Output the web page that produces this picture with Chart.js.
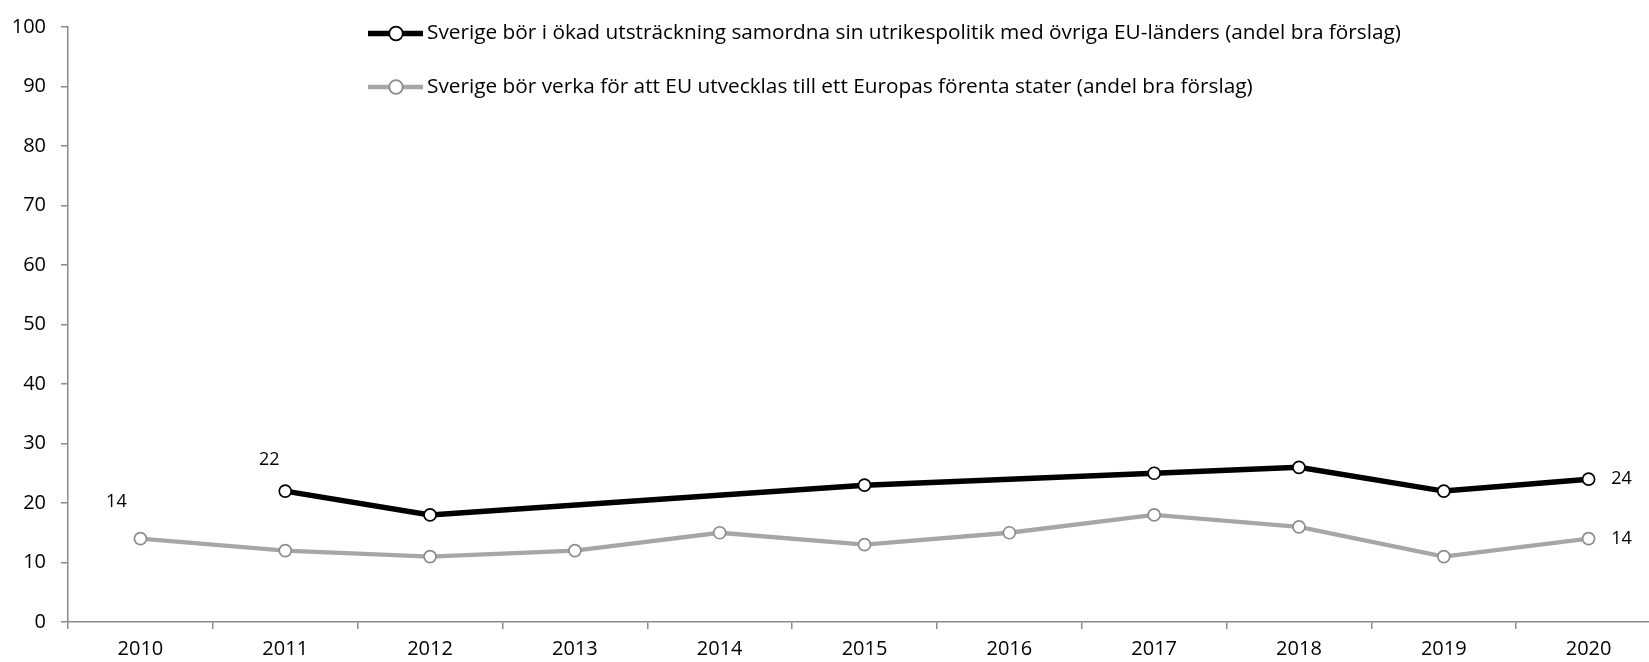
<!DOCTYPE html>
<html>
<head>
<meta charset="utf-8">
<script src="https://cdn.jsdelivr.net/npm/chart.js@4/dist/chart.umd.min.js"></script>
<style>
  html, body { margin: 0; padding: 0; background: #fff; overflow: hidden; width: 1649px; height: 662px; }
  #wrap { position: absolute; left: 0; top: 0; width: 1670px; height: 662px; }
</style>
</head>
<body>
<div id="wrap"><canvas id="c" width="1670" height="662"></canvas></div>
<script>
// ---- data ----
const years = ['2010','2011','2012','2013','2014','2015','2016','2017','2018','2019','2020'];
const samordnaValues = [null, 22, 18, null, null, 23, null, 25, 26, 22, 24];
const europasValues  = [14, 12, 11, 12, 15, 13, 15, 18, 16, 11, 14];
const seriesNames = [
  'Sverige bör i ökad utsträckning samordna sin utrikespolitik med övriga EU-länders (andel bra förslag)',
  'Sverige bör verka för att EU utvecklas till ett Europas förenta stater (andel bra förslag)'
];
const yTicks = [0, 10, 20, 30, 40, 50, 60, 70, 80, 90, 100];

const FONT = "'Open Sans', 'Noto Sans', sans-serif";
const AXIS_COLOR = '#8a8a8a';

const styles = [
  { line: '#000000', width: 5.5, marker: '#000000' },
  { line: '#a6a6a6', width: 4.3, marker: '#8c8c8c' }
];

// legend drawn as line + marker + text
const legendPlugin = {
  id: 'customLegend',
  afterDraw(chart) {
    const ctx = chart.ctx;
    const rows = [33.5, 87];
    ctx.save();
    seriesNames.forEach((name, i) => {
      const y = rows[i];
      const s = styles[i];
      ctx.strokeStyle = s.line;
      ctx.lineWidth = s.width;
      ctx.lineCap = 'butt';
      ctx.beginPath();
      ctx.moveTo(368, y);
      ctx.lineTo(423, y);
      ctx.stroke();
      ctx.beginPath();
      ctx.arc(396, y, 6.8, 0, Math.PI * 2);
      ctx.fillStyle = '#ffffff';
      ctx.fill();
      ctx.lineWidth = 1.8;
      ctx.strokeStyle = s.marker;
      ctx.stroke();
      ctx.fillStyle = '#000000';
      ctx.font = '20.8px ' + FONT;
      ctx.textAlign = 'left';
      ctx.textBaseline = 'middle';
      ctx.fillText(name, 427, y);
    });
    ctx.restore();
  }
};

// value labels on first and last points of each series
const valueLabelPlugin = {
  id: 'valueLabels',
  afterDatasetsDraw(chart) {
    const ctx = chart.ctx;
    ctx.save();
    ctx.font = '18px ' + FONT;
    ctx.fillStyle = '#000000';
    ctx.textAlign = 'center';
    ctx.textBaseline = 'middle';
    chart.data.datasets.forEach((ds, di) => {
      const meta = chart.getDatasetMeta(di);
      const idx = ds.data.map((v, i) => v == null ? -1 : i).filter(i => i >= 0);
      const first = idx[0], last = idx[idx.length - 1];
      const pf = meta.data[first], pl = meta.data[last];
      const offFirst = di === 0 ? [-16, -31] : [-24, -37];
      ctx.fillText(String(ds.data[first]), pf.x + offFirst[0], pf.y + offFirst[1]);
      ctx.fillText(String(ds.data[last]), pl.x + 33, pl.y);
    });
    ctx.restore();
  }
};

new Chart(document.getElementById('c'), {
  type: 'line',
  data: {
    labels: years,
    datasets: [
      {
        label: seriesNames[0],
        data: samordnaValues,
        borderColor: styles[0].line,
        borderWidth: styles[0].width,
        pointRadius: 6,
        pointBorderWidth: 1.7,
        pointBackgroundColor: '#ffffff',
        pointBorderColor: styles[0].marker,
        spanGaps: true,
        tension: 0,
        order: 0
      },
      {
        label: seriesNames[1],
        data: europasValues,
        borderColor: styles[1].line,
        borderWidth: styles[1].width,
        pointRadius: 6,
        pointBorderWidth: 1.7,
        pointBackgroundColor: '#ffffff',
        pointBorderColor: styles[1].marker,
        tension: 0,
        order: 1
      }
    ]
  },
  options: {
    responsive: false,
    animation: false,
    devicePixelRatio: 1,
    layout: { padding: { top: 21, right: 9, left: 0, bottom: 0 } },
    plugins: {
      legend: { display: false },
      tooltip: { enabled: false }
    },
    scales: {
      x: {
        type: 'category',
        offset: true,
        grid: {
          offset: true,
          drawOnChartArea: false,
          drawTicks: true,
          tickLength: 7,
          color: AXIS_COLOR,
          lineWidth: 1.5
        },
        border: { display: true, color: AXIS_COLOR, width: 1.5 },
        ticks: {
          color: '#000000',
          font: { family: FONT, size: 20 },
          padding: 8,
          maxRotation: 0,
          autoSkip: false
        },
        afterFit(scale) { scale.height = 40; }
      },
      y: {
        min: 0,
        max: 100,
        afterBuildTicks(scale) { scale.ticks = yTicks.map(v => ({ value: v })); },
        grid: {
          drawOnChartArea: false,
          drawTicks: true,
          tickLength: 7,
          color: AXIS_COLOR,
          lineWidth: 1.5
        },
        border: { display: true, color: AXIS_COLOR, width: 1.5 },
        ticks: {
          color: '#000000',
          font: { family: FONT, size: 20 },
          padding: 15
        },
        afterFit(scale) { scale.width = 68; }
      }
    }
  },
  plugins: [legendPlugin, valueLabelPlugin]
});
</script>
</body>
</html>
